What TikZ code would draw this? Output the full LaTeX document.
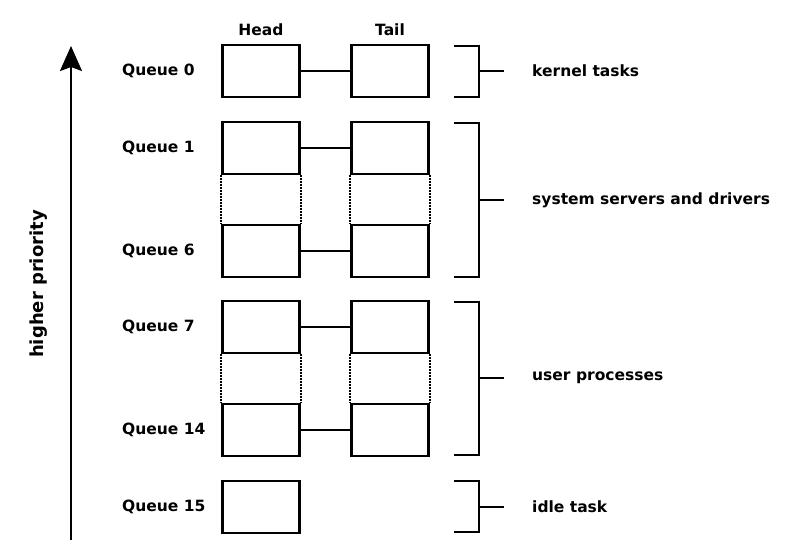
\documentclass[tikz,border=0pt]{standalone}
\usepackage{fontspec}
\setmainfont{DejaVu Sans}
\usetikzlibrary{arrows.meta,positioning,calc}

\begin{document}
\begin{tikzpicture}[x=1pt,y=-1pt,
    qbox/.style={draw, line width=2.2pt, minimum width=77pt, minimum height=52pt, inner sep=0pt},
    qlabel/.style={anchor=west, inner sep=0pt, font=\fontsize{15.5}{18}\selectfont\bfseries},
    link/.style={line width=2.2pt},
    gap/.style={line width=2pt, dash pattern=on 1.6pt off 1.4pt}]
  \useasboundingbox (0,0) rectangle (805,555);

  % column titles
  \node[qlabel, anchor=center] (head) at (261,30) {Head};
  \node[qlabel, anchor=center] (tail) at (390,30) {Tail};

  % queues
  \node[qbox] (h0) at (261,71) {};
  \node[qbox] (t0) at (390,71) {};
  \node[qbox] (h1) at (261,148) {};
  \node[qbox] (t1) at (390,148) {};
  \node[qbox] (h6) at (261,251) {};
  \node[qbox] (t6) at (390,251) {};
  \node[qbox] (h7) at (261,327) {};
  \node[qbox] (t7) at (390,327) {};
  \node[qbox] (h14) at (261,430) {};
  \node[qbox] (t14) at (390,430) {};
  \node[qbox] (h15) at (261,507) {};

  \draw[link] (h0) -- (t0);
  \draw[link] (h1) -- (t1);
  \draw[link] (h6) -- (t6);
  \draw[link] (h7) -- (t7);
  \draw[link] (h14) -- (t14);

  % skipped queues
  \draw[gap] (h1.south west) -- (h6.north west);
  \draw[gap] (h1.south east) -- (h6.north east);
  \draw[gap] (t1.south west) -- (t6.north west);
  \draw[gap] (t1.south east) -- (t6.north east);
  \draw[gap] (h7.south west) -- (h14.north west);
  \draw[gap] (h7.south east) -- (h14.north east);
  \draw[gap] (t7.south west) -- (t14.north west);
  \draw[gap] (t7.south east) -- (t14.north east);

  % queue names
  \node[qlabel] (q0) at (122,71) {Queue 0};
  \node[qlabel] (q1) at (122,148) {Queue 1};
  \node[qlabel] (q6) at (122,251) {Queue 6};
  \node[qlabel] (q7) at (122,327) {Queue 7};
  \node[qlabel] (q14) at (122,430) {Queue 14};
  \node[qlabel] (q15) at (122,507) {Queue 15};

  % priority arrow
  \coordinate (low) at (71,540);
  \coordinate (high) at (71,46);
  \draw[link, -{Stealth[length=25pt, width=22pt, inset=4pt]}] (low) -- (high);
  \node[qlabel, anchor=center, rotate=90, font=\fontsize{18}{21}\selectfont\bfseries] (prio) at (39,284) {higher priority};

  % groups
  \node[qlabel] (kernel) at (532,71) {kernel tasks};
  \node[qlabel] (system) at (532,200) {system servers and drivers};
  \node[qlabel] (user) at (532,378) {user processes};
  \node[qlabel] (idle) at (532,507) {idle task};

  \draw[link] (454,46) -| (479,97) -- (454,97);
  \draw[link] (479,71) -- ($(kernel.west)+(-28,0)$);
  \draw[link] (454,123) -| (479,277) -- (454,277);
  \draw[link] (479,200) -- ($(system.west)+(-28,0)$);
  \draw[link] (454,302) -| (479,455) -- (454,455);
  \draw[link] (479,378) -- ($(user.west)+(-28,0)$);
  \draw[link] (454,481) -| (479,532) -- (454,532);
  \draw[link] (479,507) -- ($(idle.west)+(-28,0)$);
\end{tikzpicture}
\end{document}
